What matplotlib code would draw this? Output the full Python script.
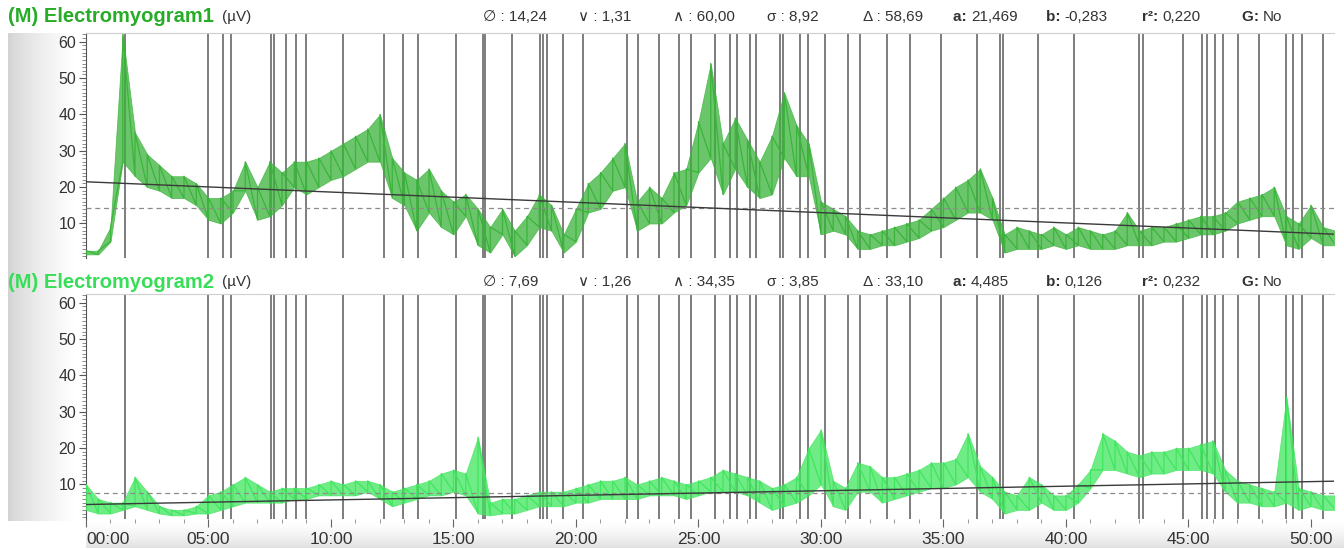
import numpy as np
import matplotlib
matplotlib.use("Agg")
import matplotlib.pyplot as plt
from matplotlib.ticker import MultipleLocator, FixedLocator

# ---------------- data ----------------
# sampling grid in minutes (0.5 min bins)
time_min = np.arange(0, 51.01, 0.5)

# Electromyogram1 : per-bin min / max envelope (µV)
emg1_lo = [1.5, 1.5, 5, 27, 23, 20, 19, 17, 17, 15, 11, 10, 13, 19, 11, 12, 15, 20, 18, 20,
           22, 23, 25, 27, 27, 17, 15, 8, 13, 9, 7, 12, 4, 2, 7, 1, 4, 9, 8, 2,
           5, 13, 14, 19, 20, 8, 10, 10, 13, 15, 24, 28, 18, 25, 20, 17, 18, 28, 23, 23,
           7, 8, 7, 3, 3, 4, 4, 5, 6, 8, 9, 11, 13, 13, 11, 2, 3, 3, 3, 4,
           3, 4, 3, 3, 3, 4, 4, 4, 5, 5, 6, 7, 7, 8, 10, 11, 12, 12, 4, 3,
           6, 4, 4]
emg1_hi = [2.5, 2.5, 9, 62, 35, 29, 26, 23, 23, 21, 17, 17, 19, 27, 20, 27, 24, 27, 27, 28,
           30, 32, 34, 36, 40, 28, 24, 22, 25, 19, 16, 18, 14, 9, 14, 8, 12, 18, 15, 7,
           14, 21, 24, 28, 32, 16, 20, 17, 24, 25, 38, 54, 32, 39, 33, 27, 34, 46, 37, 32,
           16, 14, 12, 8, 7, 8, 9, 10, 11, 14, 17, 20, 22, 25, 17, 7, 9, 8, 7, 9,
           7, 9, 8, 7, 8, 13, 8, 9, 9, 10, 11, 12, 12, 13, 16, 17, 18, 20, 12, 10,
           15, 9, 8]

# Electromyogram2 : per-bin min / max envelope (µV)
emg2_lo = [3, 2, 2, 3, 4, 3, 2, 1.5, 1.5, 2, 2, 3, 4, 5, 5, 5, 5, 6, 6, 7,
           7, 7, 7, 8, 6, 4, 5, 6, 7, 7, 8, 7, 2, 1.5, 2, 2, 3, 4, 4, 4,
           5, 5, 6, 6, 6, 6, 7, 7, 7, 6, 7, 8, 8, 8, 7, 5, 3, 4, 5, 7,
           10, 4, 3, 8, 8, 5, 6, 7, 8, 9, 9, 10, 12, 8, 6, 2, 3, 3, 5, 3,
           3, 5, 9, 14, 14, 13, 12, 13, 13, 14, 14, 14, 13, 8, 5, 5, 4, 4, 5, 3,
           4, 3, 3]
emg2_hi = [10, 6, 5, 5, 12, 8, 4, 3, 3, 4, 7, 8, 10, 12, 10, 8, 9, 9, 9, 10,
           11, 10, 11, 11, 10, 8, 9, 10, 11, 13, 14, 13, 23, 5, 6, 6, 7, 8, 8, 8,
           9, 10, 11, 11, 12, 10, 11, 12, 11, 10, 11, 12, 14, 13, 12, 11, 9, 10, 12, 20,
           25, 11, 9, 16, 15, 12, 12, 13, 14, 16, 16, 17, 24, 15, 12, 8, 7, 12, 10, 7,
           7, 10, 14, 24, 22, 19, 18, 19, 19, 20, 20, 21, 22, 14, 11, 10, 9, 8, 34, 9,
           8, 7, 7]

# event markers (minutes)
events = [1.59, 4.98, 5.59, 5.92, 7.55, 7.67, 8.16, 8.57, 8.98, 10.49, 12.16, 12.94, 13.55,
          15.10, 16.20, 16.29, 17.39, 18.53, 18.65, 18.82, 19.47, 20.29, 22.08, 22.53, 23.39,
          24.20, 24.69, 25.67, 26.29, 26.57, 27.10, 27.35, 28.33, 28.45, 29.14, 29.47, 30.16,
          31.10, 31.59, 32.69, 33.63, 34.90, 36.37, 37.31, 37.43, 38.86, 40.33, 42.98, 43.14,
          44.78, 45.55, 45.76, 46.08, 46.41, 47.02, 47.88, 48.98, 49.27, 49.63, 50.49]

# statistics shown in the headers
titles = ["(M) Electromyogram1", "(M) Electromyogram2"]
mean_vals = [14.24, 7.69]
min_vals = [1.31, 1.26]
max_vals = [60.00, 34.35]
sd_vals = [8.92, 3.85]
range_vals = [58.69, 33.10]
a_vals = [21.469, 4.485]
b_vals = [-0.283, 0.126]
r2_vals = [0.220, 0.232]

x_ticks = [0, 5, 10, 15, 20, 25, 30, 35, 40, 45, 50]
x_labels = ["00:00", "05:00", "10:00", "15:00", "20:00", "25:00", "30:00", "35:00", "40:00", "45:00", "50:00"]
y_ticks = [10, 20, 30, 40, 50, 60]

# ---------------- styling ----------------
W, H = 1344, 549
fig = plt.figure(figsize=(W / 100, H / 100), dpi=100)
fig.patch.set_facecolor("white")
FONT = ["Liberation Sans", "DejaVu Sans"]
plt.rcParams["font.family"] = FONT

line_colors = ["#3ab43a", "#40e65e"]
title_colors = ["#26ac26", "#38de58"]
txt_col = "#333333"


def rect(x0, y0, x1, y1):
    return [x0 / W, 1 - y1 / H, (x1 - x0) / W, (y1 - y0) / H]


def fmt(v, nd=2):
    return f"{v:.{nd}f}".replace(".", ",")


# background (gradients)
bg = fig.add_axes([0, 0, 1, 1], zorder=-10)
bg.set_xlim(0, W)
bg.set_ylim(H, 0)
bg.axis("off")
g = np.linspace(0, 1, 200)
left_grad = np.ones((2, 200, 3))
for c in range(3):
    left_grad[:, :, c] = 0.82 + 0.18 * g ** 0.7
bg.imshow(left_grad, extent=(8, 74, 521, 33), aspect="auto", interpolation="bilinear")
bot_grad = np.ones((200, 2, 3))
gv = np.linspace(0, 1, 200)[:, None]
for c in range(3):
    bot_grad[:, :, c] = 1.0 - 0.12 * gv ** 1.5
bg.imshow(bot_grad, extent=(86, 1344, 548, 521), aspect="auto", interpolation="bilinear")

panels = [(33, 258), (294, 519)]
header_y = [17, 282]
stat_x = [483, 578, 673, 767, 863, 953, 1046, 1142, 1242]
renderer = fig.canvas.get_renderer()

for i in range(2):
    y0, y1 = panels[i]
    ax = fig.add_axes(rect(86, y0, 1334, y1))
    ax.set_xlim(0, 50.94)
    ax.set_ylim(0.5, 62.4)
    lo = np.array([emg1_lo, emg2_lo][i], dtype=float)
    hi = np.array([emg1_hi, emg2_hi][i], dtype=float)
    col = line_colors[i]
    # event markers
    for e in events:
        ax.axvline(e, color="#5a5a5a", lw=1.1, zorder=1)
    # signal envelope
    ax.fill_between(time_min, lo, hi, color=col, lw=0.6, alpha=0.75, zorder=3)
    zz_t = np.repeat(time_min, 2)
    zz_v = np.column_stack([lo, hi]).ravel()
    ax.plot(zz_t, zz_v, color=col, lw=0.9, zorder=3)
    # mean and regression line
    ax.axhline(mean_vals[i], color="#8c8c8c", lw=0.9, ls=(0, (4, 3)), zorder=4)
    xx = np.array([0, 50.94])
    ax.plot(xx, a_vals[i] + b_vals[i] * xx, color="#3a3a3a", lw=1.0, zorder=5)

    for s in ["right", "bottom"]:
        ax.spines[s].set_visible(False)
    ax.spines["top"].set_color("#cfcfcf")
    ax.spines["left"].set_color("#555555")
    ax.yaxis.set_major_locator(FixedLocator(y_ticks))
    ax.yaxis.set_minor_locator(MultipleLocator(1))
    ax.tick_params(axis="y", which="major", length=5, color="#555555", labelsize=11.5,
                   labelcolor=txt_col, pad=2)
    ax.tick_params(axis="y", which="minor", length=3, color="#777777")
    ax.xaxis.set_major_locator(FixedLocator(x_ticks))
    ax.xaxis.set_minor_locator(MultipleLocator(1))
    if i == 0:
        ax.tick_params(axis="x", which="both", bottom=False, labelbottom=False)
    else:
        ax.tick_params(axis="x", which="major", length=6, color="#666666", labelsize=12.5,
                       labelcolor=txt_col, pad=3)
        ax.tick_params(axis="x", which="minor", length=3, color="#888888")
        ax.set_xticklabels(x_labels)
        labs = ax.get_xticklabels()
        labs[0].set_horizontalalignment("left")

    hy = header_y[i]
    bg.text(8, hy, titles[i], color=title_colors[i], fontsize=14.5, fontweight="bold",
            va="center", ha="left")
    bg.text(222, hy, "(µV)", color=txt_col, fontsize=11, va="center", ha="left")
    stats = [("∅ : ", fmt(mean_vals[i])), ("∨ : ", fmt(min_vals[i])), ("∧ : ", fmt(max_vals[i])),
             ("σ : ", fmt(sd_vals[i])), ("Δ : ", fmt(range_vals[i]))]
    for k, (sym, val) in enumerate(stats):
        bg.text(stat_x[k], hy, sym + val, color=txt_col, fontsize=11, va="center", ha="left")
    bold_stats = [("a: ", fmt(a_vals[i], 3)), ("b: ", fmt(b_vals[i], 3)),
                  ("r²: ", fmt(r2_vals[i], 3)), ("G: ", "No")]
    for k, (lab, val) in enumerate(bold_stats):
        t1 = bg.text(stat_x[5 + k], hy, lab, color=txt_col, fontsize=11, fontweight="bold",
                     va="center", ha="left")
        bb = t1.get_window_extent(renderer=renderer)
        bg.text(stat_x[5 + k] + bb.width, hy, val, color=txt_col, fontsize=11,
                va="center", ha="left")

fig.savefig("out.png", dpi=100)
